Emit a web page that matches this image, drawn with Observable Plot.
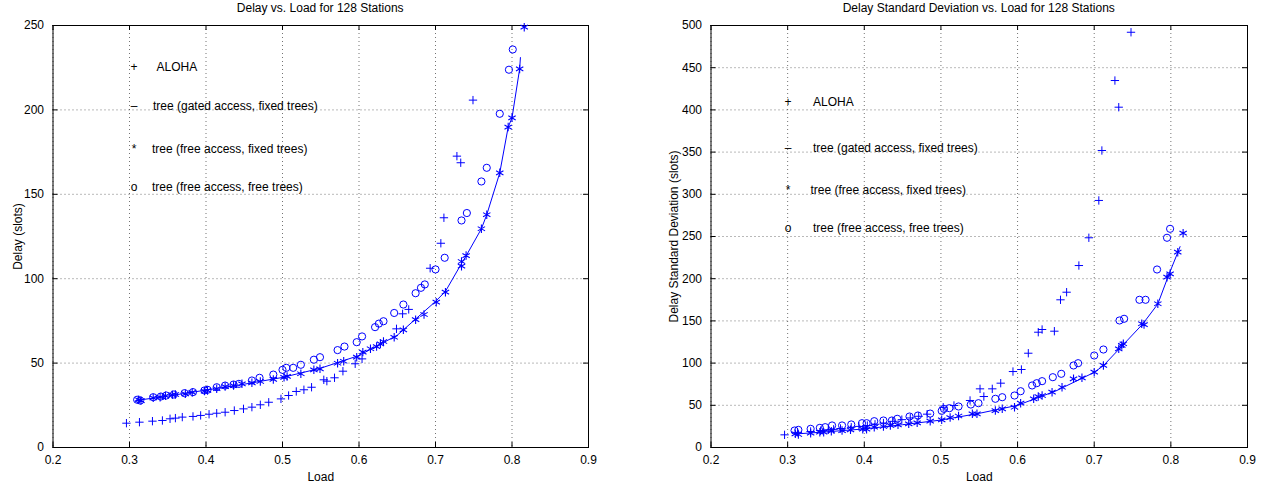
<!DOCTYPE html>
<html><head><meta charset="utf-8">
<script src="https://cdn.jsdelivr.net/npm/d3@7"></script>
<script src="https://cdn.jsdelivr.net/npm/@observablehq/plot@0.6"></script>
<style>
body{margin:0;background:#fff;font-family:"Liberation Sans",Arial,Helvetica,sans-serif;}
#wrap{position:relative;width:1264px;height:487px;overflow:hidden;}
.panel{position:absolute;top:0;width:632px;height:487px;}
.title{height:16px;line-height:17px;font-size:12px;text-align:center;color:#000;white-space:nowrap;}
</style></head><body>
<div id="wrap"><div class="panel" id="left" style="left:0"></div><div class="panel" id="right" style="left:632px"></div></div>
<script>
// ---------- shared ticks / legend ----------
const loadTicks = [0.2, 0.3, 0.4, 0.5, 0.6, 0.7, 0.8, 0.9];
const delayTicks = [0, 50, 100, 150, 200, 250];
const stdTicks = [0, 50, 100, 150, 200, 250, 300, 350, 400, 450, 500];
const legendMarks = ["+", "\u2013", "*", "o"];
const legendLabels = ["ALOHA", "tree (gated access, fixed trees)", "tree (free access, fixed trees)", "tree (free access, free trees)"];

// ---------- Delay vs. Load ----------
const delayAlohaLoad = [0.296,0.313,0.330,0.343,0.353,0.360,0.369,0.383,0.393,0.404,0.414,0.425,0.437,0.449,0.460,0.471,0.482,0.498,0.508,0.518,0.528,0.538,0.554,0.558,0.568,0.579,0.595,0.604,0.649,0.657,0.665,0.693,0.707,0.711,0.728,0.733,0.749];
const delayAloha = [14.4,15.0,15.6,16.0,17.0,17.4,18.0,18.4,19.0,19.7,20.3,20.9,21.9,22.9,23.9,25.3,26.8,28.8,30.8,33.2,34.2,35.7,40.1,39.3,41.3,45.2,49.6,52.5,70.3,79.2,81.8,106.2,121.0,136.1,172.6,168.7,205.8];

const delayGatedLoad = [0.308,0.35,0.40,0.45,0.50,0.55,0.60,0.65,0.70,0.713,0.734,0.740,0.760,0.767,0.784,0.795,0.800,0.810,0.811];
const delayGated = [27.8,30.5,34.0,37.5,41.5,47.0,54.5,66.5,86.5,92.5,109.0,113.5,129.6,137.9,162.7,189.8,195.3,224.3,231.0];

const delayFixedLoad = [0.312,0.315,0.331,0.340,0.347,0.356,0.360,0.373,0.382,0.398,0.402,0.414,0.425,0.436,0.447,0.460,0.471,0.488,0.502,0.506,0.524,0.541,0.549,0.572,0.580,0.597,0.605,0.615,0.623,0.628,0.632,0.646,0.658,0.674,0.685,0.701,0.713,0.734,0.734,0.740,0.760,0.767,0.784,0.795,0.800,0.810,0.816];
const delayFixed = [28.3,27.8,29.4,29.8,30.6,31.2,31.4,31.8,32.6,33.4,33.8,34.8,36.1,36.7,37.7,38.3,39.1,40.3,41.6,42.1,43.7,46.0,46.6,49.9,51.1,53.5,56.5,58.5,59.8,61.4,62.8,65.3,69.7,75.7,78.8,86.1,92.0,110.2,107.4,113.7,129.6,137.9,162.7,189.8,195.3,224.3,249.0];

const delayFreeLoad = [0.310,0.314,0.331,0.341,0.348,0.358,0.372,0.383,0.398,0.402,0.414,0.425,0.436,0.443,0.460,0.470,0.488,0.500,0.505,0.514,0.524,0.541,0.549,0.572,0.581,0.597,0.604,0.621,0.626,0.632,0.646,0.658,0.674,0.681,0.686,0.700,0.712,0.734,0.741,0.760,0.767,0.784,0.796,0.801];
const delayFree = [28.3,27.8,29.8,30.2,30.8,31.4,32.2,32.8,33.8,34.2,35.7,36.7,37.3,37.7,39.7,41.3,43.2,46.0,47.2,47.2,49.0,52.0,53.5,57.7,59.8,62.4,65.8,71.3,73.4,74.8,79.7,84.7,91.4,94.6,96.6,105.5,112.4,134.5,138.9,157.6,165.7,197.7,223.8,235.8];

// ---------- Delay Standard Deviation vs. Load ----------
const stdAlohaLoad = [0.296,0.313,0.330,0.343,0.353,0.360,0.369,0.383,0.393,0.404,0.414,0.425,0.437,0.449,0.460,0.471,0.482,0.503,0.517,0.538,0.551,0.556,0.567,0.578,0.594,0.605,0.614,0.627,0.632,0.648,0.656,0.664,0.680,0.693,0.706,0.710,0.727,0.732,0.748];
const stdAloha = [15.0,18.0,19.0,20.0,21.0,21.5,22.5,24.0,25.0,26.0,27.5,29.0,31.0,33.0,35.0,37.0,39.5,47.7,49.8,55.7,69.5,60.4,69.5,76.2,90.0,92.4,111.7,136.6,139.8,137.8,175.0,184.0,215.6,248.5,292.7,351.9,434.8,403.2,492.0];

const stdGatedLoad = [0.310,0.35,0.40,0.45,0.50,0.55,0.60,0.65,0.70,0.712,0.736,0.763,0.783,0.797,0.809,0.812];
const stdGated = [16.0,18.5,22.0,27.0,32.5,40.5,50.0,67.0,89.0,97.0,120.0,146.0,170.0,204.0,231.0,238.0];

const stdFixedLoad = [0.310,0.314,0.330,0.342,0.347,0.357,0.371,0.382,0.398,0.403,0.413,0.425,0.434,0.444,0.458,0.469,0.486,0.501,0.512,0.523,0.541,0.547,0.571,0.580,0.596,0.604,0.621,0.627,0.632,0.645,0.658,0.673,0.684,0.700,0.712,0.732,0.736,0.738,0.762,0.765,0.783,0.795,0.799,0.809,0.816];
const stdFixed = [16.2,15.4,17.0,18.1,18.1,19.3,20.1,21.0,21.7,21.7,24.1,24.9,26.1,26.9,28.1,29.2,31.2,32.8,35.5,37.3,39.9,39.9,43.8,45.8,47.7,52.5,57.7,60.4,61.6,65.5,71.4,81.4,82.6,89.2,97.2,116.9,120.9,122.9,146.6,145.7,170.3,201.8,205.8,231.4,253.9];

const stdFreeLoad = [0.309,0.314,0.330,0.342,0.349,0.358,0.371,0.383,0.397,0.403,0.413,0.425,0.436,0.443,0.459,0.470,0.486,0.501,0.504,0.511,0.523,0.539,0.549,0.571,0.580,0.596,0.604,0.619,0.625,0.632,0.646,0.657,0.673,0.679,0.700,0.712,0.733,0.739,0.759,0.767,0.782,0.795,0.799];
const stdFree = [20.1,20.9,22.1,23.3,24.1,26.1,26.1,27.3,28.8,28.8,31.2,32.0,32.0,34.0,36.7,37.9,40.2,43.4,45.8,46.6,48.6,50.9,52.5,57.7,59.6,61.6,66.7,73.5,76.2,78.6,83.3,87.3,97.2,99.9,109.0,116.1,150.5,152.5,175.0,175.0,210.9,248.5,259.1];

const zip = (xs, ys) => xs.map((x, i) => ({x, y: ys[i]}));
const FONT = '"Liberation Sans", Arial, Helvetica, sans-serif';
const BLUE = "#0000ff";

function panel(el, cfg) {
  const W = 632, H = 471;
  const title = document.createElement("div");
  title.className = "title";
  title.style.marginLeft = cfg.ml + "px";
  title.style.width = (W - cfg.ml - cfg.mr) + "px";
  title.textContent = cfg.title;
  el.appendChild(title);
  const innerH = H - 9 - 40;
  const innerW = W - cfg.ml - cfg.mr;
  const marks = [
    Plot.gridX(loadTicks, {stroke: "#000", strokeOpacity: 0.55, strokeDasharray: "1,3"}),
    Plot.gridY(cfg.yTicks, {stroke: "#000", strokeOpacity: 0.55, strokeDasharray: "1,3"}),
    Plot.ruleX(loadTicks, {stroke: "#000", insetTop: innerH - 5}),
    Plot.ruleX(loadTicks, {stroke: "#000", insetBottom: innerH - 5}),
    Plot.ruleY(cfg.yTicks, {stroke: "#000", insetRight: innerW - 5}),
    Plot.ruleY(cfg.yTicks, {stroke: "#000", insetLeft: innerW - 5}),
    Plot.frame({stroke: "#000"}),
    Plot.axisX(loadTicks, {anchor: "bottom", tickSize: 0, tickPadding: 8, tickFormat: d3.format(".1f"), fontSize: 12,
      label: "Load", labelAnchor: "center", labelArrow: "none", labelOffset: 33}),
    Plot.axisY(cfg.yTicks, {anchor: "left", tickSize: 0, tickPadding: 9, tickFormat: d3.format("d"), fontSize: 12,
      label: cfg.ylabel, labelAnchor: "center", labelArrow: "none", labelOffset: cfg.yLabelOffset}),
    Plot.line(zip(cfg.gated[0], cfg.gated[1]), {x: "x", y: "y", stroke: BLUE, strokeWidth: 1}),
    Plot.dot(zip(cfg.aloha[0], cfg.aloha[1]), {x: "x", y: "y", symbol: "plus", r: 2.8, stroke: BLUE, strokeWidth: 1}),
    Plot.dot(zip(cfg.fixed[0], cfg.fixed[1]), {x: "x", y: "y", symbol: "asterisk", r: 4, stroke: BLUE, strokeWidth: 1.1}),
    Plot.dot(zip(cfg.free[0], cfg.free[1]), {x: "x", y: "y", symbol: "circle", r: 3.6, stroke: BLUE, strokeWidth: 1})
  ];
  legendMarks.forEach((m, i) => {
    marks.push(Plot.text([m], {text: d => d, frameAnchor: "top-left", lineAnchor: "middle", textAnchor: "middle", dx: cfg.legMarkDx, dy: cfg.legDy[i], fontSize: 12, fill: "#000"}));
    marks.push(Plot.text([legendLabels[i]], {text: d => d, frameAnchor: "top-left", lineAnchor: "middle", textAnchor: "start", dx: cfg.legTextDx[i], dy: cfg.legDy[i], fontSize: 12, fill: "#000"}));
  });
  const chart = Plot.plot({
    width: W, height: H,
    marginTop: 9, marginBottom: 40, marginLeft: cfg.ml, marginRight: cfg.mr,
    style: {fontFamily: FONT, fontSize: "12px", color: "#000", background: "#fff", overflow: "visible"},
    x: {type: "linear", domain: [0.2, 0.9]},
    y: {type: "linear", domain: cfg.ydomain},
    marks
  });
  el.appendChild(chart);
}

panel(document.getElementById("left"), {
  title: "Delay vs. Load for 128 Stations",
  ylabel: "Delay (slots)", yLabelOffset: 40,
  ml: 52.5, mr: 44, ydomain: [0, 250], yTicks: delayTicks,
  aloha: [delayAlohaLoad, delayAloha], gated: [delayGatedLoad, delayGated],
  fixed: [delayFixedLoad, delayFixed], free: [delayFreeLoad, delayFree],
  legMarkDx: 81, legTextDx: [103.5, 100, 99, 99], legDy: [42, 81, 124, 162]
});
panel(document.getElementById("right"), {
  title: "Delay Standard Deviation vs. Load for 128 Stations",
  ylabel: "Delay Standard Deviation (slots)", yLabelOffset: 42,
  ml: 78.5, mr: 17, ydomain: [0, 500], yTicks: stdTicks,
  aloha: [stdAlohaLoad, stdAloha], gated: [stdGatedLoad, stdGated],
  fixed: [stdFixedLoad, stdFixed], free: [stdFreeLoad, stdFree],
  legMarkDx: 77, legTextDx: [102, 102, 99.5, 102], legDy: [77, 123, 165, 203]
});
</script>
</body></html>
